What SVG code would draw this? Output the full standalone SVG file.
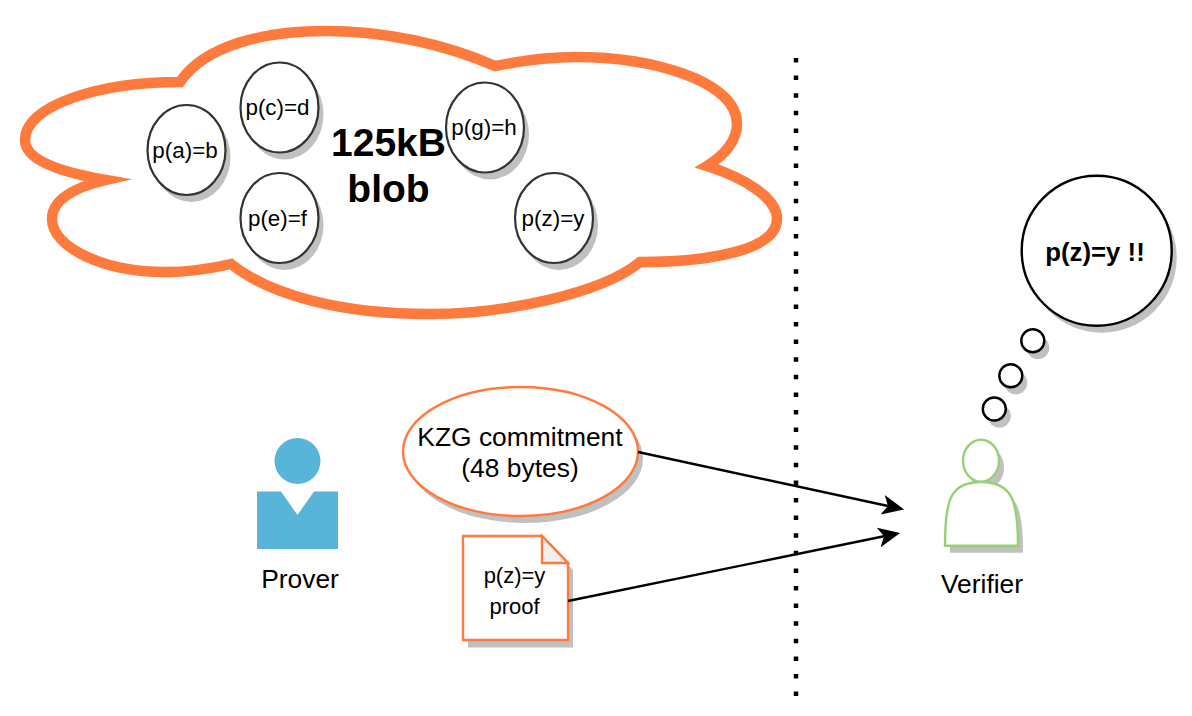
<svg xmlns="http://www.w3.org/2000/svg" width="1192" height="716" viewBox="0 0 1192 716">
<style>
text{font-family:"Liberation Sans",Arial,sans-serif;fill:#000;text-anchor:middle}
.sh{fill:#c0c0c0;stroke:none}
.blobitem{fill:#fff;stroke:#333;stroke-width:2.2}
.small{font-size:22.4px}
.doc{font-size:22px}
.mid{font-size:26.4px}
.big{font-size:39px;font-weight:bold}
.th{fill:#fff;stroke:#000;stroke-width:2.4}
.or{fill:#fff;stroke:#fe7a3d;stroke-width:2.4}
.conn{fill:none;stroke:#000;stroke-width:2.4}
</style>
<defs>
<marker id="arrow" markerUnits="userSpaceOnUse" markerWidth="23" markerHeight="22" viewBox="0 0 23 22" refX="5.500" refY="11" orient="auto">
<path d="M0,1L22,11L0,21L5.500,11Z" fill="#000"/>
</marker>
</defs>
<rect width="1192" height="716" fill="#fff"/>
<g id="cloud">
<path d="M180,82C205,45 265,31 325,31C385,31 445,44 495,66C525,60 555,57 575,57C650,57 737,80 737,124C737,140 725,155 707,166C745,178 777,198 777,219C777,250 710,262 640,262C600,295 500,314 430,314C340,314 270,295 231,264C205,270 185,272 165,272C105,272 52,248 52,219C52,200 72,188 106,180C60,172 25,160 25,140C25,105 100,82 180,82Z" fill="#fff" stroke="#fe7a3d" stroke-width="10.5" stroke-miterlimit="12"/>
</g>
<g id="blob-label">
<text class="big" x="388.500" y="156">125kB</text>
<text class="big" x="388.500" y="202">blob</text>
</g>
<g id="pab">
<ellipse class="sh" cx="191.500" cy="157" rx="39" ry="45"/>
<ellipse class="blobitem" cx="186.500" cy="150" rx="39" ry="45"/>
<text class="small" x="185" y="158">p(a)=b</text>
</g>
<g id="pcd">
<ellipse class="sh" cx="284.500" cy="114.500" rx="39" ry="45"/>
<ellipse class="blobitem" cx="279.500" cy="107.500" rx="39" ry="45"/>
<text class="small" x="277.500" y="115">p(c)=d</text>
</g>
<g id="pef">
<ellipse class="sh" cx="284.500" cy="225" rx="39" ry="45"/>
<ellipse class="blobitem" cx="279.500" cy="218" rx="39" ry="45"/>
<text class="small" x="277.500" y="226">p(e)=f</text>
</g>
<g id="pgh">
<ellipse class="sh" cx="490" cy="134.500" rx="39" ry="45"/>
<ellipse class="blobitem" cx="485" cy="127.500" rx="39" ry="45"/>
<text class="small" x="484" y="135">p(g)=h</text>
</g>
<g id="pzy">
<ellipse class="sh" cx="559" cy="225" rx="39" ry="45"/>
<ellipse class="blobitem" cx="554" cy="218" rx="39" ry="45"/>
<text class="small" x="553" y="226">p(z)=y</text>
</g>
<g id="prover">
<circle cx="297.500" cy="461" r="23" fill="#59b4d9"/>
<path d="M257,491.500H281L297.500,515L314,491.500H338V549H257Z" fill="#59b4d9"/>
<text class="mid" x="300" y="588">Prover</text>
</g>
<g id="commitment">
<ellipse class="sh" cx="525.500" cy="458.500" rx="117.500" ry="64.500"/>
<ellipse class="or" cx="520.500" cy="451.500" rx="117.500" ry="64.500"/>
<text class="mid" x="520" y="446">KZG commitment</text>
<text class="mid" x="520" y="477">(48 bytes)</text>
</g>
<g id="proof">
<path class="sh" d="M468,543H547L573,570V647.500H468Z"/>
<path class="or" d="M463,536H542L568,563V640H463Z"/>
<path d="M542,536V563H568Z" fill="#f0f0f0" stroke="#fe7a3d" stroke-width="2.400"/>
<text class="doc" x="514.500" y="583">p(z)=y</text>
<text class="doc" x="514.500" y="614">proof</text>
</g>
<g id="divider">
<line x1="796" y1="58" x2="796" y2="696" stroke="#000" stroke-width="4.500" stroke-dasharray="4.500 13.100"/>
</g>
<g id="connectors">
<line class="conn" x1="638" y1="452" x2="888" y2="506" marker-end="url(#arrow)"/>
<line class="conn" x1="568" y1="601" x2="884" y2="536.300" marker-end="url(#arrow)"/>
</g>
<g id="verifier">
<ellipse class="sh" cx="986" cy="467.700" rx="18" ry="21"/>
<path class="sh" d="M950,552.700C950,507 955,489 986,489C1017,489 1023,507 1023,552.700Z"/>
<path d="M945,545.700C945,500 950,482 981,482C1012,482 1018,500 1018,545.700Z" fill="#fff" stroke="#97d077" stroke-width="2.400"/>
<ellipse cx="981" cy="460.700" rx="18" ry="21" fill="#fff" stroke="#97d077" stroke-width="2.400"/>
<text class="mid" x="982" y="593">Verifier</text>
</g>
<g id="thought-1">
<circle class="sh" cx="999.300" cy="416" r="11.500"/>
<circle class="th" cx="994.300" cy="409" r="11.500"/>
</g>
<g id="thought-2">
<circle class="sh" cx="1015.800" cy="382.800" r="11.500"/>
<circle class="th" cx="1010.800" cy="375.800" r="11.500"/>
</g>
<g id="thought-3">
<circle class="sh" cx="1037.800" cy="347.700" r="11.500"/>
<circle class="th" cx="1032.800" cy="340.700" r="11.500"/>
</g>
<g id="thought">
<circle class="sh" cx="1101.700" cy="257.700" r="75"/>
<circle class="th" cx="1096.700" cy="250.700" r="75"/>
<text x="1095" y="261" font-size="25.800" font-weight="bold">p(z)=y !!</text>
</g>
</svg>
